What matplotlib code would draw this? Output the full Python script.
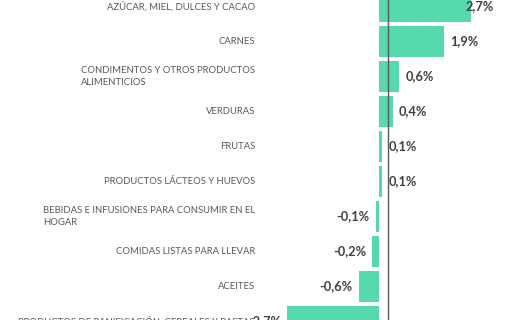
import matplotlib
matplotlib.use("Agg")
from matplotlib import pyplot as plt

categories = [
    "AZÚCAR, MIEL, DULCES Y CACAO",
    "CARNES",
    "CONDIMENTOS Y OTROS PRODUCTOS\nALIMENTICIOS",
    "VERDURAS",
    "FRUTAS",
    "PRODUCTOS LÁCTEOS Y HUEVOS",
    "BEBIDAS E INFUSIONES PARA CONSUMIR EN EL\nHOGAR",
    "COMIDAS LISTAS PARA LLEVAR",
    "ACEITES",
    "PRODUCTOS DE PANIFICACIÓN, CEREALES Y PASTAS",
]
values = [2.7, 1.9, 0.6, 0.4, 0.1, 0.1, -0.1, -0.2, -0.6, -2.7]

BAR_COLOR = "#57d9ae"
LABEL_COLOR = "#595959"
VALUE_COLOR = "#404040"
FONT = "Lato"

fig = plt.figure(figsize=(5.14, 3.2), dpi=100)
ax = fig.add_axes([0, 0, 1, 1])

pos = list(range(len(values)))
ax.barh(pos, values, height=0.88, color=BAR_COLOR, zorder=1)

# axis is full-figure: map pixels to data units
px = 1 / 34.07
ax.set_xlim(-379 * px, (514 - 379) * px)
ax.set_ylim(313.5 / 35, -6.5 / 35)
ax.axis("off")

# vertical reference line, slightly right of zero as in the original
ax.axvline(9 * px, color="#595959", lw=1.0, zorder=3)

# labels are pushed back inside the plot area like Excel does
max_label_x = (466 - 379) * px

for i, (cat, v) in enumerate(zip(categories, values)):
    ax.text((255 - 379) * px, i, cat, ha="right", va="center",
            multialignment="left", fontsize=6.85, color=LABEL_COLOR,
            family=FONT, linespacing=1.35)
    label = ("%.1f%%" % v).replace(".", ",")
    if v >= 0:
        ax.text(min(v + 6 * px, max_label_x), i, label, ha="left", va="center",
                fontsize=9.2, fontweight="bold", color=VALUE_COLOR, family=FONT,
                zorder=4)
    else:
        ax.text(v - 6 * px, i, label, ha="right", va="center",
                fontsize=9.2, fontweight="bold", color=VALUE_COLOR, family=FONT,
                zorder=4)

fig.savefig("out.png", dpi=100)
